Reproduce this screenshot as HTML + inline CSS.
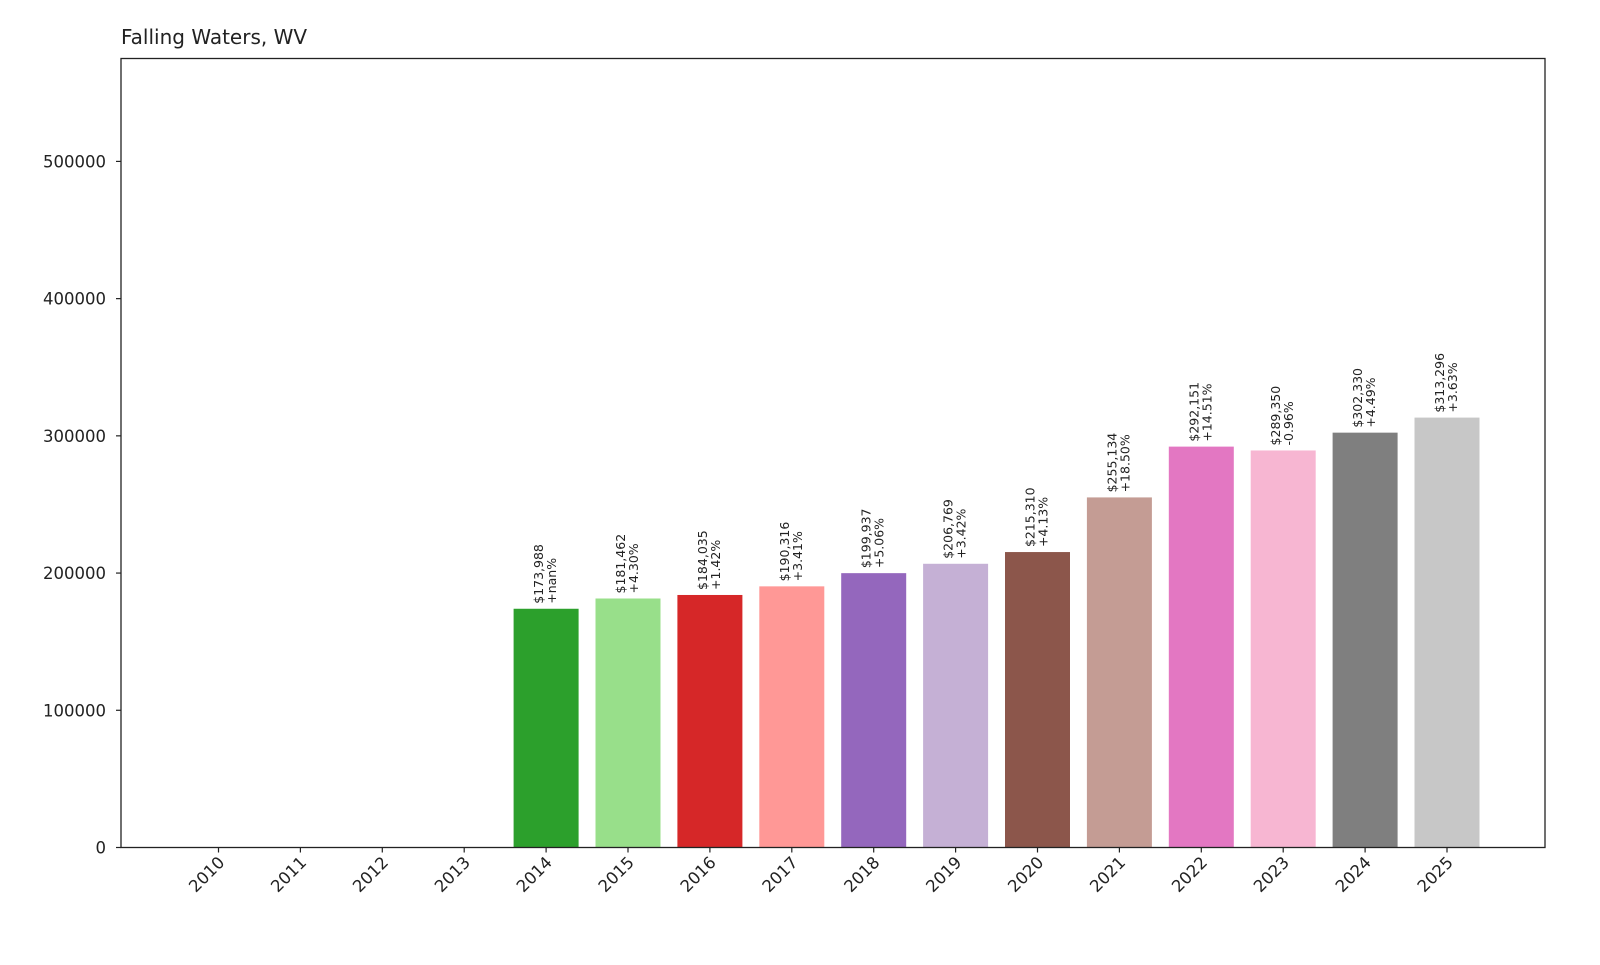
<!DOCTYPE html>
<html><head><meta charset="utf-8"><style>
body{margin:0;background:#fff;}
svg text{font-family:"DejaVu Sans","Liberation Sans",sans-serif;fill:#222;}
</style></head><body>
<svg id="chart" width="1600" height="960" xmlns="http://www.w3.org/2000/svg">
<text x="121" y="44" font-size="20">Falling Waters, WV</text>
<g id="bars"></g>
<g id="xt"></g>
<g id="yt"></g>
<rect x="121" y="58.5" width="1424" height="789" fill="none" stroke="#222" stroke-width="1.3"/>
</svg>
<script>
const years=["2010","2011","2012","2013","2014","2015","2016","2017","2018","2019","2020","2021","2022","2023","2024","2025"];
const values=[0,0,0,0,173988,181462,184035,190316,199937,206769,215310,255134,292151,289350,302330,313296];
const pctLabels=["","","","","+nan%","+4.30%","+1.42%","+3.41%","+5.06%","+3.42%","+4.13%","+18.50%","+14.51%","-0.96%","+4.49%","+3.63%"];
const colors=["#1f77b4","#aec7e8","#ff7f0e","#ffbb78","#2ca02c","#98df8a","#d62728","#ff9896","#9467bd","#c5b0d5","#8c564b","#c49c94","#e377c2","#f7b6d2","#7f7f7f","#c7c7c7"];
const yTicks=[0,100000,200000,300000,400000,500000];
const NS="http://www.w3.org/2000/svg";
const y0=847.5,yMax=575000,plotH=789;
function ys(v){return y0-v/yMax*plotH;}
function xs(i){return 218.5+81.9*i;}
const bw=65;
const gb=document.getElementById('bars'),gx=document.getElementById('xt'),gy=document.getElementById('yt');
function mk(tag,attrs,parent){const e=document.createElementNS(NS,tag);for(const k in attrs)e.setAttribute(k,attrs[k]);parent.appendChild(e);return e;}
values.forEach((v,i)=>{
  const cx=xs(i);
  const r=mk('rect',{x:cx-bw/2,y:ys(v),width:bw,height:Math.max(0,y0-ys(v)),fill:colors[i]},gb);
  
  
  if(v>0){
    const t=mk('text',{transform:`translate(${cx},${ys(v)-5}) rotate(-90)`,'font-size':'12.5'},gb);
    
    
    const a=mk('tspan',{x:0,dy:-3},t);a.textContent='$'+v.toLocaleString('en-US');
    const b=mk('tspan',{x:0,dy:13},t);b.textContent=pctLabels[i];
  }
  mk('line',{x1:cx,x2:cx,y1:y0,y2:y0+5,stroke:'#222','stroke-width':1.2},gx);
  const xl=mk('text',{transform:`translate(${cx+7},${y0+16}) rotate(-45)`,'text-anchor':'end','font-size':'16.5'},gx);
  
  
  xl.textContent=years[i];
});
yTicks.forEach(v=>{
  const y=ys(v);
  mk('line',{x1:116,x2:121,y1:y,y2:y,stroke:'#222','stroke-width':1.2},gy);
  const t=mk('text',{x:106,y:y+6,'text-anchor':'end','font-size':'16.5'},gy);
  
  
  t.textContent=String(v);
});
</script>
</body></html>
